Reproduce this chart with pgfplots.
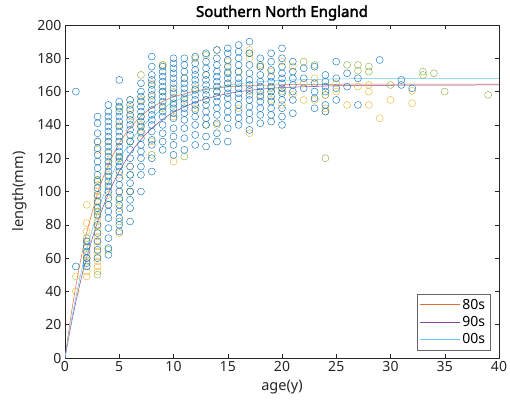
\documentclass[border=0pt]{standalone}
\usepackage{pgfplots}
\pgfplotsset{compat=1.18}
\usepackage{fontspec}
\setmainfont{Noto Sans}[AutoFakeBold=2.5]
\definecolor{mblue}{RGB}{20,120,190}
\definecolor{myellow}{RGB}{232,185,60}
\definecolor{mgreen}{RGB}{140,180,70}
\definecolor{morange}{RGB}{225,110,60}
\definecolor{mpurple}{RGB}{140,70,155}
\definecolor{mcyan}{RGB}{100,200,238}
\definecolor{axgray}{RGB}{38,38,38}
\begin{document}
\begin{tikzpicture}
\begin{axis}[
  width=434bp, height=333bp, scale only axis,
  xmin=0, xmax=40, ymin=0, ymax=200,
  xtick={0,5,...,40}, ytick={0,20,...,200},
  tick align=inside, major tick length=4bp,
  axis line style={axgray, line width=0.5pt},
  every tick/.style={axgray, line width=0.5pt},
  /pgf/number format/assume math mode=true,
  tick label style={font=\fontsize{14bp}{16bp}\selectfont, text=axgray},
  label style={font=\fontsize{14.5bp}{16bp}\selectfont, text=axgray},
  title style={font=\fontsize{15bp}{17bp}\selectfont, yshift=-5bp},
  title={\textbf{Southern North England}},
  xlabel={age(y)}, ylabel={length(mm)},
  xlabel style={yshift=-1bp},
  ylabel style={yshift=4bp},
  legend style={font=\fontsize{14bp}{16bp}\selectfont, draw=axgray!70, at={(0.98,0.024)}, anchor=south east, row sep=1.5bp, inner xsep=3bp, inner ysep=3bp},
  legend cell align=left,
  legend image code/.code={\draw[#1] (0bp,0bp) -- (40bp,0bp);},
]
% yellow observations
\addplot[only marks, mark=o, mark size=3.5bp, myellow, mark options={line width=0.45pt}, forget plot] coordinates {
(1,49)(1,40)
(2,92)(2,81)(2,76)(2,70)(2,66)(2,62)(2,58)(2,52)(2,49)
(3,130)(3,125)(3,107)(3,104)(3,100)(3,97)(3,94)(3,91)(3,88)(3,85)(3,82)(3,79)(3,76)(3,73)(3,70)(3,67)(3,64)(3,61)(3,58)(3,55)(3,52)
(4,130)(4,123)(4,117)(4,110)(4,104)(4,98)(4,92)
(5,140)(5,130)(5,120)(5,110)(5,100)(5,90)(5,75)
(6,155)(6,150)(6,145)(6,130)(6,115)(6,100)
(7,155)(7,140)(7,135)
(8,165)(8,157)(8,130)
(9,176)(9,150)
(10,160)(10,145)(10,118)
(11,168)(11,155)
(12,180)(12,162)(12,150)
(13,170)(13,155)
(14,185)(14,160)(14,140)
(15,178)(15,165)
(16,172)(16,150)
(17,185)(17,180)(17,160)(17,135)
(18,175)(18,158)
(19,172)(19,160)(19,155)
(20,178)(20,162)(20,152)
(21,175)(21,158)
(22,165)(22,155)
(23,168)(23,155)
(24,158)(24,150)(24,148)
(25,165)(25,160)
(26,152)
(27,163)
(28,164)(28,160)(28,152)
(29,144)
(30,155)
(32,160.5)(32,153)
};
% green observations
\addplot[only marks, mark=o, mark size=3.5bp, mgreen, mark options={line width=0.45pt}, forget plot] coordinates {
(2,72)(2,60)
(3,107)(3,88)(3,50)
(4,65)
(5,150)(5,120)(5,95)(5,82)
(6,130)(6,110)(6,100)
(7,170)(7,145)
(8,122)
(9,176)(9,160)
(10,152)
(11,121)
(13,182)(13,140)
(15,172)
(17,183)
(18,176)
(19,162)
(20,160)
(22,178)
(23,176)
(24,120)(24,158)
(26,176)
(27,176)(27,172.6)
(28,175)(28,172)
(30,164)
(33,172)(33,170)
(34,171)
(35,160)
(39,158)
};
% blue observations
\addplot[only marks, mark=o, mark size=3.5bp, mblue, mark options={line width=0.45pt}, forget plot] coordinates {
(1,160)(1,55)
(2,70)(2,67)(2,64)(2,60)(2,57)(2,55)
(3,145)(3,141)(3,135)(3,130)(3,126)(3,122)(3,118)(3,114)(3,110)(3,106)(3,102)(3,98)(3,94)(3,90)(3,86)(3,80)(3,75)(3,70)(3,65)(3,60)
(4,152)(4,148)(4,145)(4,142)(4,139)(4,136)(4,133)(4,130)(4,127)(4,124)(4,121)(4,118)(4,115)(4,112)(4,109)(4,106)(4,103)(4,100)(4,96)(4,92)(4,88)(4,84)(4,78)(4,72)(4,66)(4,62)
(5,167)(5,154)(5,151)(5,148)(5,145)(5,142)(5,139)(5,136)(5,133)(5,130)(5,127)(5,124)(5,121)(5,118)(5,115)(5,112)(5,108)(5,104)(5,100)(5,96)(5,92)(5,88)(5,84)(5,80)(5,76)
(6,155)(6,152)(6,149)(6,146)(6,143)(6,140)(6,137)(6,134)(6,130)(6,125)(6,120)(6,115)(6,110)(6,105)(6,100)(6,95)(6,90)(6,82)
(7,165)(7,160)(7,157)(7,154)(7,151)(7,148)(7,145)(7,142)(7,139)(7,136)(7,132)(7,128)(7,124)(7,120)(7,115)(7,110)(7,100)
(8,181)(8,175)(8,170)(8,167)(8,164)(8,161)(8,158)(8,155)(8,152)(8,149)(8,146)(8,143)(8,140)(8,136)(8,131)(8,128)(8,120)(8,112)
(9,175)(9,172)(9,169)(9,166)(9,163)(9,160)(9,157)(9,154)(9,151)(9,148)(9,145)(9,140)(9,135)(9,130)(9,125)
(10,180)(10,177)(10,174)(10,171)(10,168)(10,165)(10,162)(10,159)(10,156)(10,153)(10,150)(10,147)(10,144)(10,138)(10,133)(10,128)(10,122)
(11,180)(11,176)(11,172)(11,168)(11,165)(11,162)(11,159)(11,156)(11,153)(11,150)(11,147)(11,143)(11,138)(11,132)(11,125)
(12,181)(12,177)(12,173)(12,170)(12,167)(12,164)(12,161)(12,158)(12,155)(12,152)(12,149)(12,145)(12,140)(12,134)(12,128)
(13,183)(13,178)(13,174)(13,170)(13,167)(13,164)(13,161)(13,158)(13,155)(13,152)(13,148)(13,144)(13,140)(13,133)(13,127)
(14,185)(14,180)(14,176)(14,172)(14,169)(14,166)(14,163)(14,160)(14,157)(14,154)(14,150)(14,146)(14,141)(14,135)(14,130)
(15,186)(15,183)(15,179)(15,175)(15,171)(15,168)(15,165)(15,162)(15,159)(15,156)(15,152)(15,148)(15,144)(15,138)(15,130)
(16,188)(16,184)(16,180)(16,176)(16,172)(16,168)(16,165)(16,162)(16,159)(16,156)(16,152)(16,148)(16,144)(16,140)
(17,190)(17,183)(17,176)(17,171)(17,167)(17,164)(17,161)(17,158)(17,155)(17,151)(17,147)(17,143)(17,137)
(18,180)(18,175)(18,170)(18,166)(18,163)(18,160)(18,157)(18,154)(18,150)(18,146)(18,141)
(19,183)(19,178)(19,173)(19,169)(19,166)(19,163)(19,160)(19,157)(19,154)(19,150)(19,146)(19,142)
(20,186)(20,180)(20,175)(20,171)(20,168)(20,165)(20,162)(20,159)(20,155)(20,150)(20,145)(20,140)
(21,178)(21,172)(21,168)(21,164)(21,160)(21,155)(21,147)
(22,174)(22,168)(22,162)
(23,175)(23,165)(23,160)(23,156)(23,150)
(24,170)(24,166)(24,163)(24,160)(24,152)(24,148)
(25,178)(25,168)(25,162)(25,155)
(26,171)(26,163)
(27,168)(27,152)
(29,179)
(31,167)(31,164)
(32,162)
};
% fitted growth curves
\addplot[morange, line width=0.5pt, smooth] coordinates {
(0,0)(0.5,23.3)(1,43.4)(1.5,60.6)(2,75.3)(3,98.8)(4,116.1)(5,128.9)(6,138.3)(7,145.2)(8,150.3)(9,154.0)(10,156.8)(12,160.3)(14,162.2)(16,163.3)(18,163.8)(20,164.1)(25,164.4)(30,164.5)(40,164.5)
};
\addlegendentry{80s}
\addplot[mpurple, line width=0.5pt, smooth] coordinates {
(0,0)(0.5,17.8)(1,33.7)(1.5,47.9)(2,60.5)(3,81.7)(4,98.6)(5,112.1)(6,122.7)(7,131.2)(8,138.0)(9,143.3)(10,147.6)(12,153.6)(14,157.4)(16,159.9)(18,161.4)(20,162.4)(25,163.5)(30,163.8)(40,164.0)
};
\addlegendentry{90s}
\addplot[mcyan, line width=0.5pt, smooth] coordinates {
(0,0)(0.5,19.4)(1,36.6)(1.5,51.8)(2,65.3)(3,87.7)(4,105.2)(5,118.9)(6,129.6)(7,138.0)(8,144.5)(9,149.6)(10,153.7)(12,159.2)(14,162.6)(16,164.7)(18,166.0)(20,166.8)(25,167.6)(30,167.9)(40,168.0)
};
\addlegendentry{00s}
\end{axis}
\pgfresetboundingbox
\useasboundingbox (-65bp,-44bp) rectangle (445bp,358bp);
\end{tikzpicture}
\end{document}
